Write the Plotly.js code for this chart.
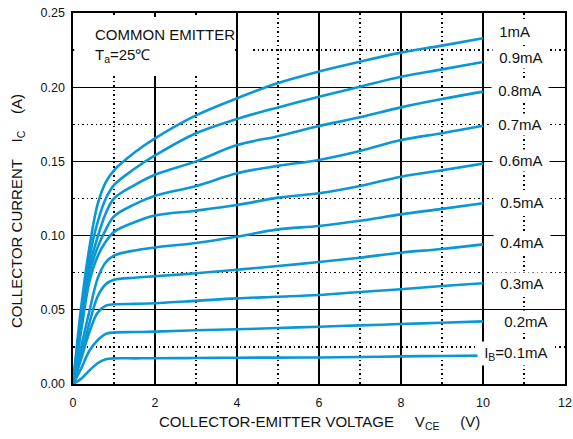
<!DOCTYPE html>
<html>
<head>
<meta charset="utf-8">
<script src="https://cdn.plot.ly/plotly-3.0.1.min.js"></script>
<style>html,body{margin:0;padding:0;background:#fff;}#chart{width:573px;height:439px;}</style>
</head>
<body>
<div id="chart"></div>
<script>
// Collector-emitter voltage VCE (V)
const vce = [0, 0.2, 0.4, 0.6, 0.8, 1, 1.5, 2, 3, 4, 5, 6, 7, 8, 9, 10];
// Base current labels
const ibLabels = ["1mA", "0.9mA", "0.8mA", "0.7mA", "0.6mA", "0.5mA", "0.4mA", "0.3mA", "0.2mA", "I<sub>B</sub>=0.1mA"];
// Collector current IC (A) for each base current
const ic_1_0 = [0, 0.052, 0.092, 0.121, 0.136, 0.144, 0.156, 0.1655, 0.181, 0.1925, 0.2028, 0.2106, 0.2172, 0.2233, 0.228, 0.233];
const ic_0_9 = [0, 0.046, 0.085, 0.109, 0.125, 0.134, 0.145, 0.154, 0.169, 0.1786, 0.1864, 0.1936, 0.2003, 0.207, 0.212, 0.217];
const ic_0_8 = [0, 0.042, 0.079, 0.099, 0.115, 0.125, 0.134, 0.141, 0.150, 0.161, 0.167, 0.1738, 0.1797, 0.1864, 0.192, 0.197];
const ic_0_7 = [0, 0.039, 0.075, 0.092, 0.104, 0.113, 0.121, 0.1268, 0.1334, 0.142, 0.147, 0.151, 0.157, 0.1644, 0.169, 0.174];
const ic_0_6 = [0, 0.036, 0.069, 0.086, 0.096, 0.1025, 0.109, 0.1135, 0.1168, 0.1206, 0.1256, 0.1285, 0.1334, 0.1397, 0.144, 0.1485];
const ic_0_5 = [0, 0.025, 0.049, 0.071, 0.082, 0.0865, 0.090, 0.092, 0.095, 0.0993, 0.1042, 0.1065, 0.110, 0.1143, 0.118, 0.1218];
const ic_0_4 = [0, 0.019, 0.041, 0.059, 0.0672, 0.0702, 0.0716, 0.0726, 0.0746, 0.077, 0.0795, 0.0822, 0.0851, 0.0885, 0.091, 0.0941];
const ic_0_3 = [0, 0.017, 0.035, 0.048, 0.0528, 0.0537, 0.054, 0.0544, 0.056, 0.0577, 0.0588, 0.060, 0.062, 0.0638, 0.066, 0.0679];
const ic_0_2 = [0, 0.0105, 0.0224, 0.0295, 0.0338, 0.0347, 0.035, 0.0353, 0.0362, 0.0369, 0.0377, 0.0386, 0.0395, 0.0404, 0.0413, 0.0422];
const ic_0_1 = [0, 0.0036, 0.0091, 0.014, 0.0166, 0.0173, 0.0173, 0.0174, 0.0175, 0.0177, 0.0178, 0.0179, 0.0182, 0.0186, 0.0189, 0.0191];
// Axis ticks
const xTicks = [0, 2, 4, 6, 8, 10, 12];
const yTicks = [0, 0.05, 0.10, 0.15, 0.20, 0.25];

const series = [ic_1_0, ic_0_9, ic_0_8, ic_0_7, ic_0_6, ic_0_5, ic_0_4, ic_0_3, ic_0_2, ic_0_1];
const lineColor = '#0a97d6';
const FONT = 'Liberation Sans, Arial, Helvetica, sans-serif';
const NB = '\u00a0';

const traces = series.map((ys, i) => ({
  x: vce, y: ys, type: 'scatter', mode: 'lines',
  line: {color: lineColor, width: 2.6, shape: 'spline', smoothing: 1.0},
  hoverinfo: 'skip', showlegend: false
}));

// label placement (style only)
const labelX = [10.22, 10.22, 10.2, 10.2, 10.22, 10.24, 10.24, 10.24, 10.34, 9.86];
const labelShift = [7, 4, 1, 1, 3, 1, 2, 0, 0, 2];

const annotations = ibLabels.map((t, i) => ({
  x: labelX[i], y: series[i][series[i].length - 1], xref: 'x', yref: 'y',
  xanchor: 'left', yanchor: 'middle', yshift: labelShift[i],
  text: NB + t + NB, showarrow: false, bgcolor: '#ffffff', borderpad: 2,
  font: {family: FONT, size: 15, color: '#111'}
}));

annotations.push({
  x: 0.49, y: 0.2358, xref: 'x', yref: 'y', xanchor: 'left', yanchor: 'middle',
  text: 'COMMON EMITTER', showarrow: false,
  font: {family: FONT, size: 15, color: '#111'}
});
annotations.push({
  x: 0.49, y: 0.2215, xref: 'x', yref: 'y', xanchor: 'left', yanchor: 'middle',
  text: 'T<sub>a</sub>=25\u2103', showarrow: false,
  font: {family: FONT, size: 15, color: '#111'}
});
annotations.push({
  x: 0.5, y: -0.105, xref: 'paper', yref: 'paper', xanchor: 'center', yanchor: 'middle',
  text: 'COLLECTOR-EMITTER VOLTAGE' + NB.repeat(5) + 'V<sub>CE</sub>' + NB.repeat(5) + '(V)',
  showarrow: false, font: {family: FONT, size: 15, color: '#111'}
});
annotations.push({
  x: -0.114, y: 0.466, xref: 'paper', yref: 'paper', xanchor: 'center', yanchor: 'middle',
  textangle: -90,
  text: 'COLLECTOR CURRENT' + NB.repeat(4) + 'I<sub>C</sub>' + NB.repeat(4) + '(A)',
  showarrow: false, font: {family: FONT, size: 15, color: '#111'}
});

const layout = {
  width: 573, height: 439,
  margin: {l: 73, r: 8, t: 13, b: 55},
  paper_bgcolor: '#fff', plot_bgcolor: '#fff',
  showlegend: false,
  xaxis: {
    range: [0, 12], tickvals: xTicks, ticktext: xTicks.map(String),
    showgrid: true, gridcolor: '#000', gridwidth: 1.4,
    minor: {dtick: 1, showgrid: true, gridcolor: '#000', griddash: '1.5px,3px', gridwidth: 1.3},
    showline: true, linecolor: '#000', linewidth: 1.6, mirror: true,
    zeroline: false, ticks: '', ticklabelstandoff: 6,
    tickfont: {family: FONT, size: 12.5, color: '#111'}, fixedrange: true
  },
  yaxis: {
    range: [0, 0.25], tickvals: yTicks, ticktext: yTicks.map(v => v.toFixed(2)),
    showgrid: true, gridcolor: '#000', gridwidth: 1.4,
    minor: {dtick: 0.025, showgrid: true, gridcolor: '#000', griddash: '1.5px,3px', gridwidth: 1.3},
    showline: true, linecolor: '#000', linewidth: 1.6, mirror: true,
    zeroline: false, ticks: '', ticklabelstandoff: 4,
    tickfont: {family: FONT, size: 12.5, color: '#111'}, fixedrange: true
  },
  shapes: [
    {type: 'rect', xref: 'x', yref: 'y', x0: 0.03, x1: 3.95, y0: 0.2075, y1: 0.2473,
     fillcolor: '#fff', line: {width: 0}, layer: 'between'},
    {type: 'rect', xref: 'x', yref: 'y', x0: 4.05, x1: 4.38, y0: 0.221, y1: 0.229,
     fillcolor: '#fff', line: {width: 0}, layer: 'between'}
  ],
  annotations: annotations
};

Plotly.newPlot('chart', traces, layout, {displayModeBar: false, staticPlot: true});
</script>
</body>
</html>
